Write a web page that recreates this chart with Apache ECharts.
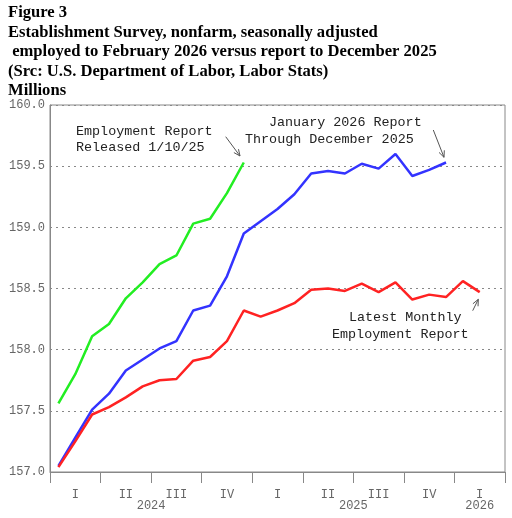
<!DOCTYPE html>
<html>
<head>
<meta charset="utf-8">
<script src="https://cdn.jsdelivr.net/npm/echarts@6/dist/echarts.min.js"></script>
<style>
html,body{margin:0;padding:0;background:#fff;}
#c{width:512px;height:518px;}
</style>
</head>
<body>
<div id="c"></div>
<script>
// Months Jan 2024 .. Mar 2026
var months = ['2024-01','2024-02','2024-03','2024-04','2024-05','2024-06','2024-07','2024-08','2024-09','2024-10','2024-11','2024-12',
              '2025-01','2025-02','2025-03','2025-04','2025-05','2025-06','2025-07','2025-08','2025-09','2025-10','2025-11','2025-12',
              '2026-01','2026-02','2026-03'];
var quarterLabels = ['I','II','III','IV'];
var yearLabels = ['2024','2025','2026'];
var yearPositions = [6, 18, 25.5];
var yTicks = [157.0, 157.5, 158.0, 158.5, 159.0, 159.5, 160.0];

// Report released 1/10/25 (through Dec 2024)
var greenSeries = [157.56, 157.80, 158.11, 158.21, 158.42, 158.55, 158.70, 158.77, 159.03, 159.07, 159.28, 159.53];
// January 2026 report through December 2025
var blueSeries = [157.05, 157.28, 157.51, 157.64, 157.83, 157.92, 158.01, 158.07, 158.32, 158.36, 158.60, 158.95,
                  159.05, 159.15, 159.27, 159.44, 159.46, 159.44, 159.52, 159.48, 159.60, 159.42, 159.47, 159.53];
// Latest monthly employment report
var redSeries = [157.04, 157.25, 157.47, 157.53, 157.61, 157.70, 157.75, 157.76, 157.91, 157.94, 158.07, 158.32,
                 158.27, 158.32, 158.38, 158.49, 158.50, 158.48, 158.54, 158.47, 158.55, 158.41, 158.45, 158.43,
                 158.56, 158.47];

var monoFont = '"Liberation Mono", "DejaVu Sans Mono", monospace';
var annFont = '13.4px ' + monoFont;

function arrow(x1, y1, x2, y2) {
  var dx = x2 - x1, dy = y2 - y1, L = Math.sqrt(dx*dx + dy*dy);
  var ux = dx / L, uy = dy / L, h = 7, a = 0.42;
  var c = Math.cos(a), s = Math.sin(a);
  var bx1 = -(ux*c - uy*s), by1 = -(ux*s + uy*c);
  var bx2 = -(ux*c + uy*s), by2 = -(-ux*s + uy*c);
  var st = {stroke:'#555', lineWidth:1, fill:null};
  return [
    {type:'line', shape:{x1:x1,y1:y1,x2:x2,y2:y2}, style:st, silent:true},
    {type:'polyline', shape:{points:[[x2+bx1*h,y2+by1*h],[x2,y2],[x2+bx2*h,y2+by2*h]]}, style:st, silent:true}
  ];
}
function txt(x, y, t) {
  return {type:'text', left:x, top:y - 8, style:{text:t, font:annFont, fill:'#222'}, silent:true};
}

var chart = echarts.init(document.getElementById('c'), null, {renderer:'canvas'});
var graphics = [
  {type:'text', left:8, top:3, style:{
    text:'Figure 3\nEstablishment Survey, nonfarm, seasonally adjusted\n employed to February 2026 versus report to December 2025\n(Src: U.S. Department of Labor, Labor Stats)\nMillions',
    font:'bold 16.6px "Liberation Serif", "Times New Roman", serif', fill:'#000', lineHeight:19.5}},
  txt(76, 133, 'Employment Report'),
  txt(76, 149, 'Released 1/10/25'),
  txt(269, 124, 'January 2026 Report'),
  txt(245, 141, 'Through December 2025'),
  txt(349, 319, 'Latest Monthly'),
  txt(332, 336, 'Employment Report')
].concat(arrow(225.7,136.7,240,156), arrow(433.3,130,444,157.3), arrow(472.7,310.7,478.3,299.3));

chart.setOption({
  animation:false,
  backgroundColor:'#fff',
  grid:{left:50, right:7, top:105, bottom:46, show:true, borderColor:'#888', borderWidth:1},
  xAxis:[{
    type:'category', data:months, boundaryGap:true,
    axisLine:{lineStyle:{color:'#888', width:1}},
    axisTick:{show:true, length:11, inside:false, interval:function(i){return i % 3 === 0;}, lineStyle:{color:'#888'}},
    axisLabel:{interval:function(i){return i % 3 === 1;}, margin:17, color:'#666', fontFamily:monoFont, fontSize:12,
      formatter:function(v, i){ var m = parseInt(v.slice(5), 10); return quarterLabels[Math.floor((m-1)/3)]; }},
    splitLine:{show:false}
  },{
    type:'value', position:'bottom', min:0, max:27, gridIndex:0,
    axisLine:{show:false}, axisTick:{show:false}, splitLine:{show:false},
    axisLabel:{margin:28, color:'#666', fontFamily:monoFont, fontSize:12, customValues:yearPositions,
      formatter:function(v){ var k = yearPositions.indexOf(v); return k >= 0 ? yearLabels[k] : ''; }}
  }],
  yAxis:{
    type:'value', min:yTicks[0], max:yTicks[yTicks.length-1], interval:0.5,
    axisLine:{show:true, lineStyle:{color:'#888'}}, axisTick:{show:false},
    axisLabel:{margin:5, color:'#666', fontFamily:monoFont, fontSize:12, formatter:function(v){return v.toFixed(1);}},
    splitLine:{show:true, lineStyle:{color:'#888', type:[2,4], width:1}}
  },
  series:[
    {type:'line', data:greenSeries, showSymbol:false, lineStyle:{color:'#22ee22', width:2.5}, itemStyle:{color:'#22ee22'}, z:3},
    {type:'line', data:blueSeries, showSymbol:false, lineStyle:{color:'#3333ff', width:2.5}, itemStyle:{color:'#3333ff'}, z:4},
    {type:'line', data:redSeries, showSymbol:false, lineStyle:{color:'#ff2222', width:2.5}, itemStyle:{color:'#ff2222'}, z:5}
  ],
  graphic:graphics
});
</script>
</body>
</html>
